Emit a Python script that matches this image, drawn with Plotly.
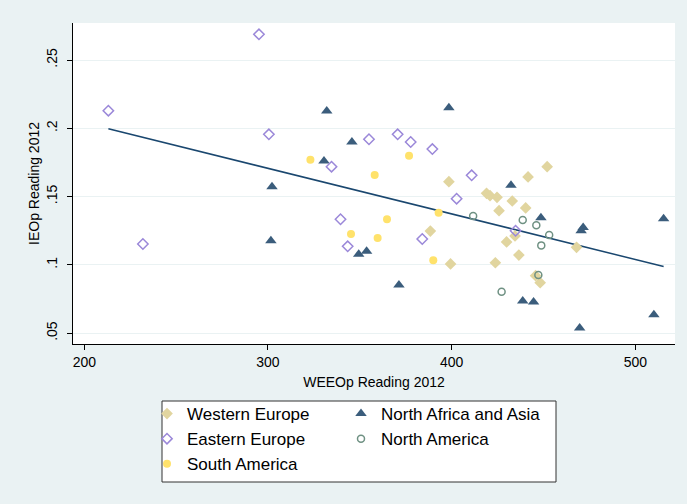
import numpy as np
import plotly.graph_objects as go

# WEEOp (x) and IEOp (y) reading scores, 2012, by region
we_x = [398.5, 441.6, 452.0, 419.0, 420.9, 424.7, 433.0, 425.8, 440.3, 388.4,
        434.5, 429.9, 436.6, 399.4, 423.8, 468.0, 445.7, 448.2]
we_y = [.1609, .1644, .1719, .1524, .1507, .1495, .1468, .1397, .1417, .1248,
        .1212, .1168, .1072, .1007, .1016, .1129, .0921, .0870]

ee_x = [213.1, 295.1, 300.5, 231.9, 334.6, 355.0, 370.6, 377.7, 339.5, 343.4,
        389.5, 410.9, 402.7, 384.0, 434.8]
ee_y = [.2129, .2688, .1956, .1153, .1719, .1920, .1956, .1900, .1334, .1136,
        .1848, .1656, .1485, .1190, .1250]

sa_x = [323.1, 358.1, 376.8, 345.2, 359.7, 364.8, 392.9, 390.0]
sa_y = [.1770, .1658, .1800, .1226, .1197, .1334, .1382, .1034]

naa_x = [332.0, 345.7, 330.5, 398.5, 302.2, 301.6, 349.4, 353.7, 371.3, 432.3,
         448.6, 471.6, 470.5, 515.4, 438.7, 444.6, 469.7, 510.1]
naa_y = [.2127, .1900, .1761, .2151, .1573, .1177, .1078, .1100, .0853, .1583,
         .1346, .1273, .1251, .1338, .0736, .0728, .0538, .0636]

na_x = [411.7, 438.7, 446.1, 453.1, 448.8, 427.2, 447.2]
na_y = [.1358, .1329, .1290, .1219, .1143, .0804, .0926]

x_ticks = [200, 300, 400, 500]
y_ticks = [0.05, 0.10, 0.15, 0.20, 0.25]
y_tick_labels = [".05", ".1", ".15", ".2", ".25"]

FONT = "Liberation Sans, Arial, sans-serif"
BG = "#EAF2F3"

# Linear fit over all observations
all_x = np.array(we_x + ee_x + sa_x + naa_x + na_x)
all_y = np.array(we_y + ee_y + sa_y + naa_y + na_y)
slope, intercept = np.polyfit(all_x, all_y, 1)
fit_x = np.array([all_x.min(), all_x.max()])
fit_y = intercept + slope * fit_x

fig = go.Figure()

fig.add_trace(go.Scatter(
    x=fit_x, y=fit_y, mode="lines", line=dict(color="#1A476F", width=1.5),
    showlegend=False, hoverinfo="skip"))

series = [
    ("Western Europe", we_x, we_y,
     dict(symbol="diamond", size=9, color="#E1D59F"), "legend"),
    ("North Africa and Asia", naa_x, naa_y,
     dict(symbol="triangle-up", size=10, color="#3B5D7C"), "legend2"),
    ("Eastern Europe", ee_x, ee_y,
     dict(symbol="diamond-open", size=8, color="#9B88D9", line=dict(width=1.5)), "legend"),
    ("North America", na_x, na_y,
     dict(symbol="circle-open", size=7, color="#6F9183", line=dict(width=1.5)), "legend2"),
    ("South America", sa_x, sa_y,
     dict(symbol="circle", size=8, color="#FFE26B"), "legend"),
]
for name, xs, ys, mk, lg in series:
    fig.add_trace(go.Scatter(x=xs, y=ys, mode="markers", name=name,
                             marker=mk, legend=lg))

W, H = 687, 504
ML, MR, MT, MB = 73, 12, 23, 160
pw, ph = W - ML - MR, H - MT - MB


def px_x(p):
    return (p - ML) / pw


def px_y(p):
    return (H - MB - p) / ph


legend_style = dict(
    font=dict(family=FONT, size=17, color="#000000"),
    bgcolor="rgba(0,0,0,0)", borderwidth=0, orientation="v",
    xanchor="left", yanchor="top", itemsizing="trace")

fig.update_layout(
    width=W, height=H,
    margin=dict(l=ML, r=MR, t=MT, b=MB, autoexpand=False),
    paper_bgcolor=BG, plot_bgcolor="#FFFFFF",
    font=dict(family=FONT, size=14, color="#000000"),
    legend=dict(x=px_x(147), y=px_y(396), **legend_style),
    legend2=dict(x=px_x(341), y=px_y(396), **legend_style),
    shapes=[dict(type="rect", xref="paper", yref="paper",
                 x0=px_x(162), x1=px_x(556), y0=px_y(401), y1=px_y(482),
                 line=dict(color="#333333", width=1), fillcolor="#FFFFFF",
                 layer="below")],
    xaxis=dict(
        range=[193.85, 521.6], tickvals=x_ticks, ticks="outside", ticklen=5,
        tickcolor="#000000", showline=True, linecolor="#000000", linewidth=1,
        showgrid=False, zeroline=False, automargin=False,
        tickfont=dict(family=FONT, size=14),
        title=dict(text="WEEOp Reading 2012", font=dict(family=FONT, size=14),
                   standoff=8)),
    yaxis=dict(
        range=[0.0421, 0.2771], tickvals=y_ticks, ticktext=y_tick_labels,
        ticks="outside", ticklen=5, tickcolor="#000000", tickangle=-90,
        ticklabelstandoff=4,
        showline=True, linecolor="#000000", linewidth=1,
        showgrid=True, gridcolor=BG, gridwidth=1, zeroline=False,
        automargin=False, tickfont=dict(family=FONT, size=14),
        title=dict(text="IEOp Reading 2012", font=dict(family=FONT, size=14),
                   standoff=1)),
)

fig.write_html("out.html")
